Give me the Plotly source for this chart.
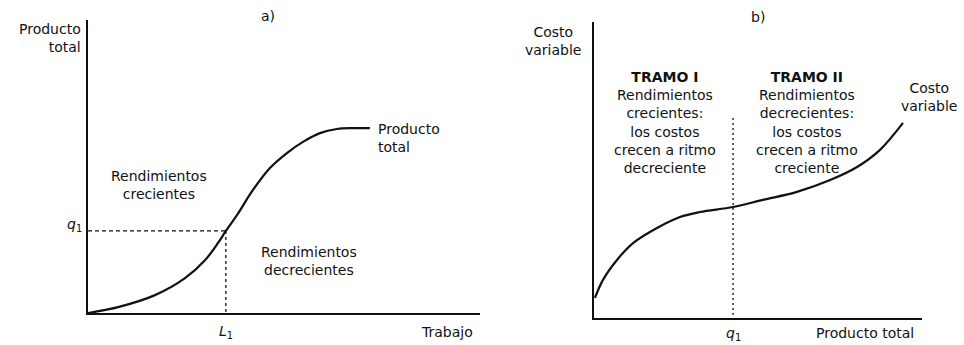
import plotly.graph_objects as go

# ---------- Data ----------
# Panel a) total product vs labour
trabajo = [0, 0.92, 2.05, 2.97, 3.58, 3.98, 4.22, 4.56, 5.05, 5.57, 6.09, 6.58, 7.10, 7.62, 8.11, 8.63]
producto_total = [0, 0.20, 0.61, 1.19, 1.80, 2.39, 2.80, 3.34, 4.20, 4.95, 5.46, 5.84, 6.14, 6.28, 6.31, 6.31]
L1 = 4.22
q1_a = 2.80

# Panel b) variable cost vs total product
producto_b = [0.03, 0.27, 0.70, 1.19, 1.92, 2.62, 3.23, 4.24, 5.15, 6.19, 7.20, 8.02, 8.72, 9.42]
costo_variable = [0.68, 1.28, 1.96, 2.53, 3.04, 3.41, 3.58, 3.75, 3.99, 4.26, 4.66, 5.10, 5.68, 6.59]
q1_b = 4.24
q1_b_top = 6.76

W, H = 964, 345
FONT = "DejaVu Sans"
FS = 14
INK = "#111111"


def px(x):
    return x / W


def py(y):
    return 1 - y / H


fig = go.Figure()

# Panel a curve
fig.add_trace(go.Scatter(x=trabajo, y=producto_total, mode="lines",
                         line=dict(color=INK, width=2.2, shape="spline", smoothing=1),
                         xaxis="x", yaxis="y", showlegend=False, hoverinfo="skip"))
# Panel a guide lines
fig.add_trace(go.Scatter(x=[0, L1], y=[q1_a, q1_a], mode="lines",
                         line=dict(color=INK, width=1.3, dash="4px,3px"),
                         xaxis="x", yaxis="y", showlegend=False, hoverinfo="skip"))
fig.add_trace(go.Scatter(x=[L1, L1], y=[q1_a, 0], mode="lines",
                         line=dict(color=INK, width=1.3, dash="3px,3px"),
                         xaxis="x", yaxis="y", showlegend=False, hoverinfo="skip"))

# Panel b curve
fig.add_trace(go.Scatter(x=producto_b, y=costo_variable, mode="lines",
                         line=dict(color=INK, width=2.2, shape="spline", smoothing=1),
                         xaxis="x2", yaxis="y2", showlegend=False, hoverinfo="skip"))
fig.add_trace(go.Scatter(x=[q1_b, q1_b], y=[q1_b_top, 0], mode="lines",
                         line=dict(color=INK, width=1.3, dash="2px,3px"),
                         xaxis="x2", yaxis="y2", showlegend=False, hoverinfo="skip"))

axis_common = dict(showgrid=False, zeroline=False, showticklabels=False, ticks="",
                   showline=True, linecolor=INK, linewidth=2, fixedrange=True)

fig.update_layout(
    width=W, height=H, autosize=False,
    margin=dict(l=0, r=0, t=0, b=0),
    paper_bgcolor="white", plot_bgcolor="white",
    font=dict(family=FONT, size=FS, color=INK),
    xaxis=dict(domain=[px(88), px(480)], range=[0, 12], anchor="y", **axis_common),
    yaxis=dict(domain=[py(313), py(20)], range=[0, 10], anchor="x", **axis_common),
    xaxis2=dict(domain=[px(594), px(922)], range=[0, 10], anchor="y2", **axis_common),
    yaxis2=dict(domain=[py(318), py(22)], range=[0, 10], anchor="x2", **axis_common),
)

ann = []


def add(text, x, y, xref="paper", yref="paper", xanchor="center", yanchor="middle",
        align="center", size=FS, **kw):
    ann.append(dict(text=text, x=x, y=y, xref=xref, yref=yref, xanchor=xanchor,
                    yanchor=yanchor, align=align, showarrow=False, borderpad=0,
                    font=dict(family=FONT, size=size, color=INK), **kw))


# Panel a labels
add("a)", px(268), py(16))
add("Producto<br>total", px(82), py(38), xanchor="right", align="right")
add("<i>q</i><sub>1</sub>", px(83), q1_a, yref="y", xanchor="right", yshift=6)
add("<i>L</i><sub>1</sub>", L1, py(332), xref="x")
add("Trabajo", px(447), py(332))
add("Rendimientos<br>crecientes", px(159), py(185))
add("Rendimientos<br>decrecientes", px(309), py(261))
add("Producto<br>total", px(377), py(138), xanchor="left", align="left")

# Panel b labels
add("b)", px(758), py(17))
add("Costo<br>variable", px(553), py(41))
tramo_text_1 = "<b>TRAMO I</b><br>Rendimientos<br>crecientes:<br>los costos<br>crecen a ritmo<br>decreciente"
tramo_text_2 = "<b>TRAMO II</b><br>Rendimientos<br>decrecientes:<br>los costos<br>crecen a ritmo<br>creciente"
add(tramo_text_1, px(665), py(122))
add(tramo_text_2, px(807), py(122))
add("Costo<br>variable", px(929), py(97))
add("<i>q</i><sub>1</sub>", q1_b, py(334), xref="x2")
add("Producto total", px(865), py(333))

fig.update_layout(annotations=ann)

fig.write_html("out.html", config={"displayModeBar": False},
               post_script="document.body.style.margin='0px';")
